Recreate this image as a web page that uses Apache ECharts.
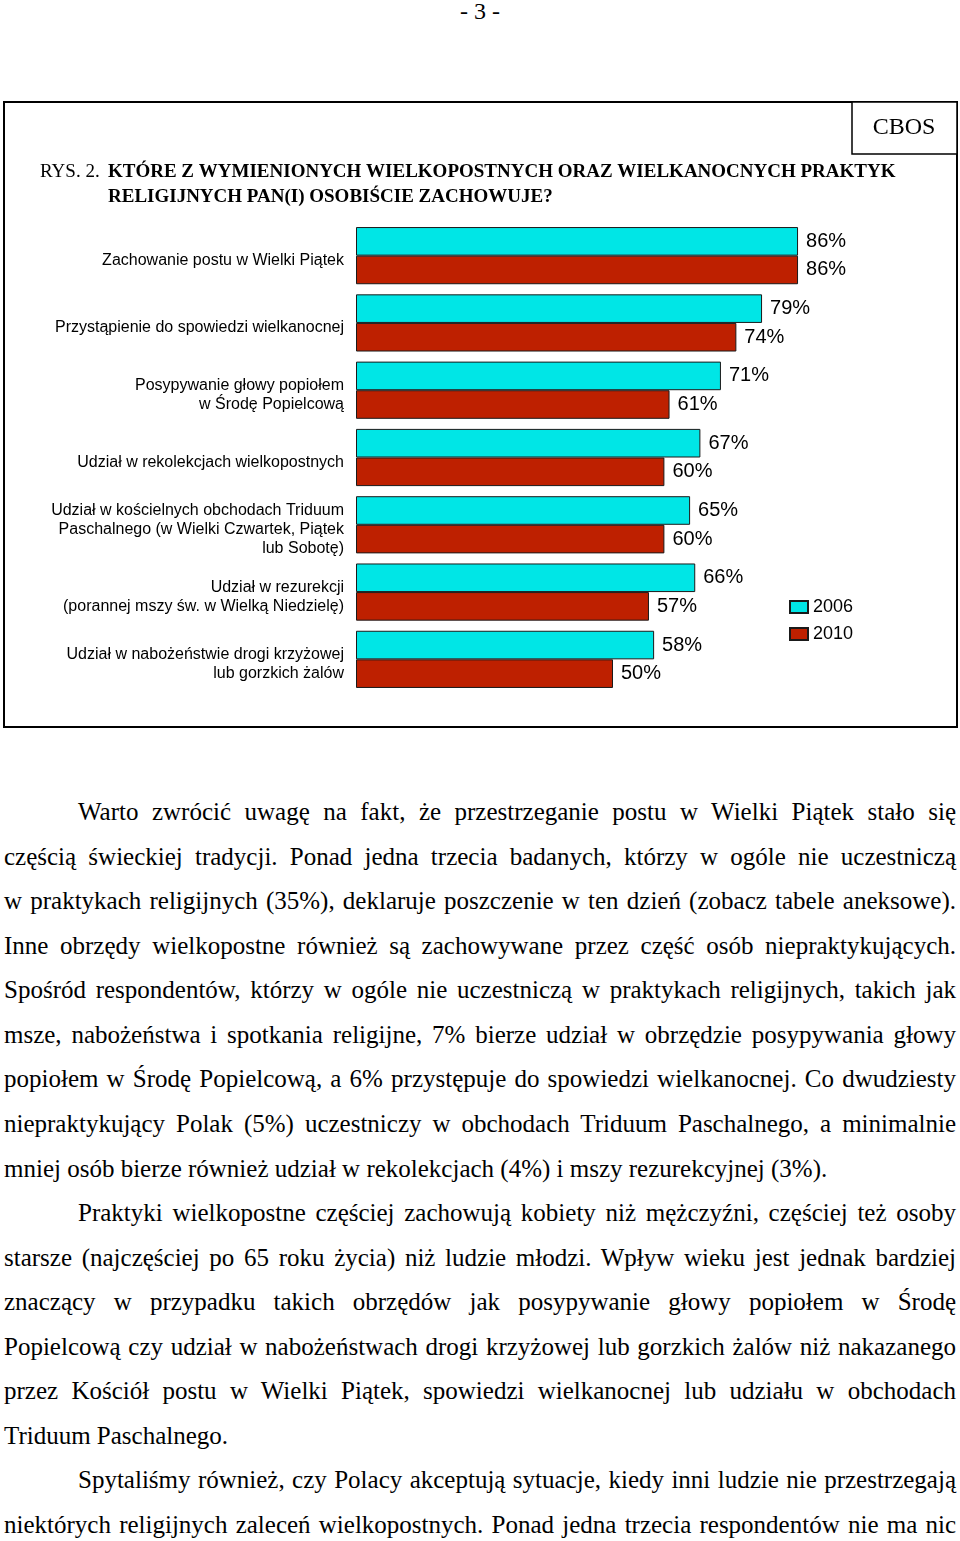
<!DOCTYPE html>
<html>
<head>
<meta charset="utf-8">
<script src="https://cdn.jsdelivr.net/npm/echarts@6/dist/echarts.min.js"></script>
<style>
  html, body { margin:0; padding:0; background:#fff; }
  body { width:960px; height:1541px; position:relative; overflow:hidden; }
  #hdr { position:absolute; left:0; width:960px; top:-2px; text-align:center; font:24px 'Liberation Serif','Times New Roman',serif; color:#000; }
  #chart { position:absolute; left:0; top:0; width:960px; height:740px; }
  #body { position:absolute; left:4px; top:790px; width:952px; font:25px 'Liberation Serif','Times New Roman',serif; line-height:44.57px; color:#000; }
  #body div { white-space:nowrap; text-align:justify; text-align-last:justify; height:44.57px; }
  #body div.ind { text-indent:74px; }
  #body div.last { text-align-last:left; }
</style>
</head>
<body>
<div id="hdr">- 3 -</div>
<div id="chart"></div>
<div id="body"></div>
<script>
const categories = [
  'Zachowanie postu w Wielki Piątek',
  'Przystąpienie do spowiedzi wielkanocnej',
  'Posypywanie głowy popiołem\nw Środę Popielcową',
  'Udział w rekolekcjach wielkopostnych',
  'Udział w kościelnych obchodach Triduum\nPaschalnego (w Wielki Czwartek, Piątek\nlub Sobotę)',
  'Udział w rezurekcji\n(porannej mszy św. w Wielką Niedzielę)',
  'Udział w nabożeństwie drogi krzyżowej\nlub gorzkich żalów'
];
const seriesNames = ['2006', '2010'];
const values2006 = [86, 79, 71, 67, 65, 66, 58];
const values2010 = [86, 74, 61, 60, 60, 57, 50];

const titlePrefix = 'RYS. 2.';
const titleLines = ['KTÓRE Z WYMIENIONYCH WIELKOPOSTNYCH ORAZ WIELKANOCNYCH PRAKTYK', 'RELIGIJNYCH PAN(I) OSOBIŚCIE ZACHOWUJE?'];
const sourceLabel = 'CBOS';

const bodyLines = [
  ['ind', 'Warto zwrócić uwagę na fakt, że przestrzeganie postu w Wielki Piątek stało się'],
  ['', 'częścią świeckiej tradycji. Ponad jedna trzecia badanych, którzy w ogóle nie uczestniczą'],
  ['', 'w praktykach religijnych (35%), deklaruje poszczenie w ten dzień (zobacz tabele aneksowe).'],
  ['', 'Inne obrzędy wielkopostne również są zachowywane przez część osób niepraktykujących.'],
  ['', 'Spośród respondentów, którzy w ogóle nie uczestniczą w praktykach religijnych, takich jak'],
  ['', 'msze, nabożeństwa i spotkania religijne, 7% bierze udział w obrzędzie posypywania głowy'],
  ['', 'popiołem w Środę Popielcową, a 6% przystępuje do spowiedzi wielkanocnej. Co dwudziesty'],
  ['', 'niepraktykujący Polak (5%) uczestniczy w obchodach Triduum Paschalnego, a minimalnie'],
  ['last', 'mniej osób bierze również udział w rekolekcjach (4%) i mszy rezurekcyjnej (3%).'],
  ['ind', 'Praktyki wielkopostne częściej zachowują kobiety niż mężczyźni, częściej też osoby'],
  ['', 'starsze (najczęściej po 65 roku życia) niż ludzie młodzi. Wpływ wieku jest jednak bardziej'],
  ['', 'znaczący w przypadku takich obrzędów jak posypywanie głowy popiołem w Środę'],
  ['', 'Popielcową czy udział w nabożeństwach drogi krzyżowej lub gorzkich żalów niż nakazanego'],
  ['', 'przez Kościół postu w Wielki Piątek, spowiedzi wielkanocnej lub udziału w obchodach'],
  ['last', 'Triduum Paschalnego.'],
  ['ind', 'Spytaliśmy również, czy Polacy akceptują sytuacje, kiedy inni ludzie nie przestrzegają'],
  ['', 'niektórych religijnych zaleceń wielkopostnych. Ponad jedna trzecia respondentów nie ma nic']
];

const bodyEl = document.getElementById('body');
bodyLines.forEach(([cls, txt]) => {
  const d = document.createElement('div');
  if (cls) d.classList.add(cls);
  d.textContent = txt;
  bodyEl.appendChild(d);
});

const SANS = "'Liberation Sans', Arial, sans-serif";
const SERIF = "'Liberation Serif', 'Times New Roman', serif";
const CYAN = '#00E6E6';
const RED = '#BE2000';

const chart = echarts.init(document.getElementById('chart'), null, { renderer: 'canvas' });
chart.setOption({
  animation: false,
  backgroundColor: 'transparent',
  grid: { left: 356, width: 514, top: 222, height: 471, containLabel: false },
  xAxis: { type: 'value', min: 0, max: 100, show: false },
  yAxis: {
    type: 'category', inverse: true, data: categories,
    axisLine: { show: false }, axisTick: { show: false }, splitLine: { show: false },
    axisLabel: {
      color: '#000', fontFamily: SANS, fontSize: 16, lineHeight: 19, margin: 12, align: 'right',
      formatter: (v) => '{s| }\n' + v.split('\n').map(l => '{t|' + l + '}').join('\n'),
      rich: {
        s: { fontSize: 1, lineHeight: 10 },
        t: { color: '#000', fontFamily: SANS, fontSize: 16, lineHeight: 19, align: 'right' }
      }
    }
  },
  legend: {
    data: seriesNames, orient: 'vertical', left: 784, top: 593,
    itemWidth: 18, itemHeight: 12, itemGap: 9, icon: 'rect',
    textStyle: { color: '#000', fontFamily: SANS, fontSize: 18, lineHeight: 18 }
  },
  series: [
    {
      name: seriesNames[0], type: 'bar', data: values2006, barGap: '0%', barCategoryGap: '15%',
      itemStyle: { color: CYAN, borderColor: '#1a1a1a', borderWidth: 1 },
      label: { show: true, position: 'right', distance: 8, formatter: '{c}%', color: '#000', fontFamily: SANS, fontSize: 20 }
    },
    {
      name: seriesNames[1], type: 'bar', data: values2010, barGap: '0%', barCategoryGap: '15%',
      itemStyle: { color: RED, borderColor: '#1a1a1a', borderWidth: 1 },
      label: { show: true, position: 'right', distance: 8, formatter: '{c}%', color: '#000', fontFamily: SANS, fontSize: 20 }
    }
  ],
  graphic: [
    { type: 'rect', shape: { x: 4, y: 102, width: 953, height: 625 }, style: { fill: 'none', stroke: '#000', lineWidth: 2 }, silent: true },
    { type: 'rect', shape: { x: 852, y: 102, width: 105, height: 52 }, style: { fill: '#fff', stroke: '#000', lineWidth: 1.5 }, silent: true },
    { type: 'text', x: 904, y: 128, style: { text: sourceLabel, fill: '#000', font: '24px ' + SERIF, textAlign: 'center', textVerticalAlign: 'middle' } },
    { type: 'text', x: 40, y: 172, style: { text: titlePrefix, fill: '#000', font: '19px ' + SERIF, textAlign: 'left', textVerticalAlign: 'middle' } },
    { type: 'text', x: 108, y: 172, style: { text: titleLines[0], fill: '#000', font: 'bold 19px ' + SERIF, textAlign: 'left', textVerticalAlign: 'middle' } },
    { type: 'text', x: 108, y: 197, style: { text: titleLines[1], fill: '#000', font: 'bold 19px ' + SERIF, textAlign: 'left', textVerticalAlign: 'middle' } }
  ]
});
</script>
</body>
</html>
